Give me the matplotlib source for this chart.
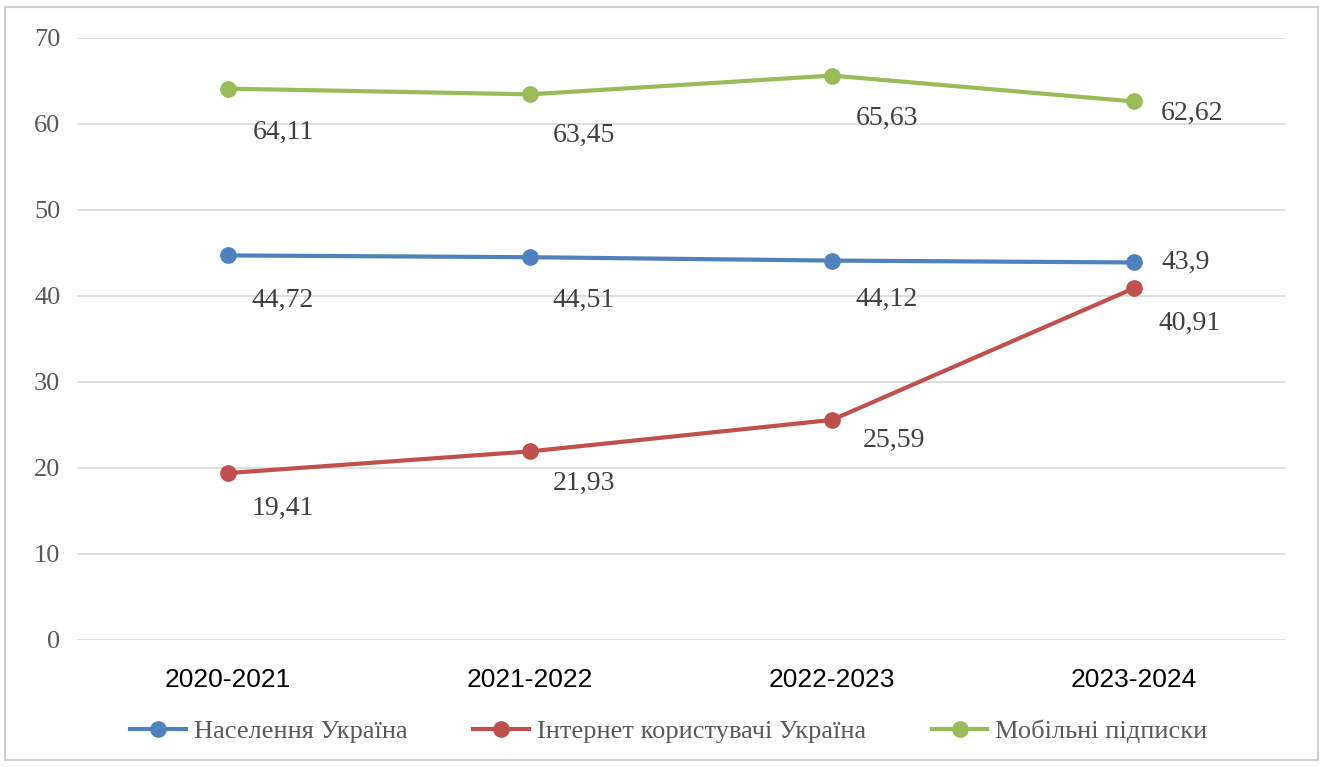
import matplotlib
matplotlib.use("Agg")
import matplotlib.pyplot as plt
from matplotlib.patches import Rectangle

categories = ["2020-2021", "2021-2022", "2022-2023", "2023-2024"]
population = [44.72, 44.51, 44.12, 43.9]
internet = [19.41, 21.93, 25.59, 40.91]
mobile = [64.11, 63.45, 65.63, 62.62]
series_names = ["Населення Україна", "Інтернет користувачі Україна", "Мобільні підписки"]
yticks = [0, 10, 20, 30, 40, 50, 60, 70]

colors = ["#4f81bd", "#c0504d", "#9bbb59"]
# label offsets in pixels (dx, dy) relative to each point
offsets = {
    0: [(55, -45), (54, -43), (55, -39), (52, 0)],
    1: [(55, -35), (54, -32), (62, -20), (56, -35)],
    2: [(55, -44), (54, -41), (55, -43), (58, -12)],
}

fig = plt.figure(figsize=(13.25, 7.67), dpi=100)
fig.patches.append(Rectangle((5/1325, 7/767), 1313/1325, 753/767, transform=fig.transFigure,
                             fill=False, edgecolor="#d0d0d0", linewidth=1.5))
ax = fig.add_axes([77/1325, 1-640/767, (1285-77)/1325, (640-38)/767])

x = list(range(len(categories)))
all_series = [population, internet, mobile]
for i, (vals, name) in enumerate(zip(all_series, series_names)):
    ax.plot(x, vals, color=colors[i], lw=3, marker="o", markersize=11, label=name, zorder=3)
    for j, v in enumerate(vals):
        dx, dy = offsets[i][j]
        ax.annotate(f"{v:g}".replace(".", ","), (j, v), xytext=(dx*0.72, dy*0.72),
                    textcoords="offset points", ha="center", va="center",
                    fontsize=20, family="Liberation Serif", color="#404040")

ax.set_xlim(-0.5, 3.5)
ax.set_ylim(0, 70)
ax.set_yticks(yticks)
ax.set_yticklabels([str(t) for t in yticks], family="Liberation Serif", fontsize=19, color="#595959")
ax.set_xticks(x)
ax.set_xticklabels(categories, family="Liberation Sans", fontsize=19, color="black")
ax.tick_params(axis="both", length=0)
ax.tick_params(axis="x", pad=20)
ax.tick_params(axis="y", pad=12)
ax.grid(axis="y", color="#d9d9d9", lw=1.2)
ax.set_axisbelow(True)
for s in ax.spines.values():
    s.set_visible(False)

leg = ax.legend(loc="center", bbox_to_anchor=(0.49, -0.152), ncol=3, frameon=False,
                prop={"family": "Liberation Serif", "size": 19}, handlelength=2.1,
                columnspacing=2.5, handletextpad=0.3)
for t in leg.get_texts():
    t.set_color("#595959")

fig.savefig("out.png", dpi=100)
